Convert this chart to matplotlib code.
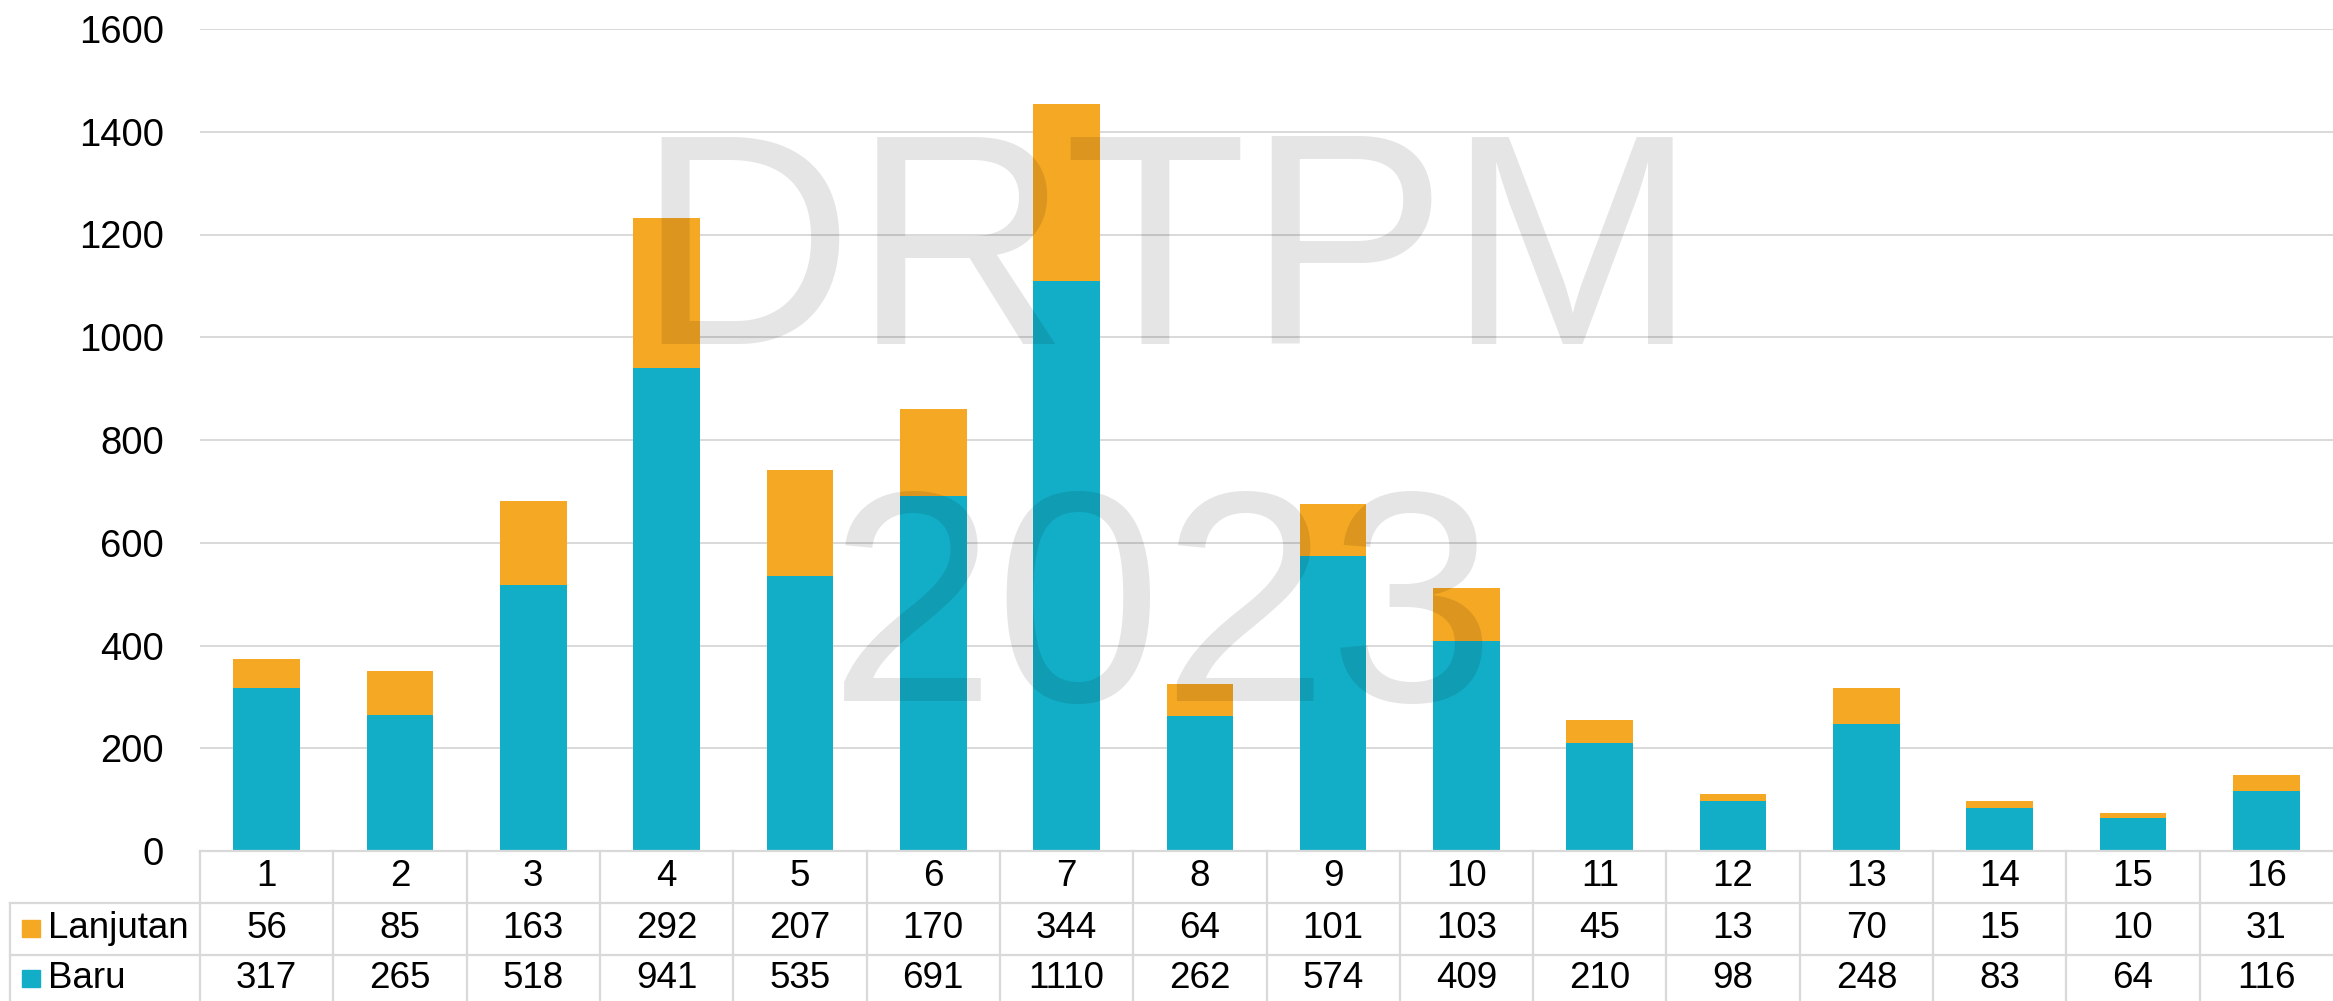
import matplotlib
matplotlib.use("Agg")
from matplotlib import pyplot as plt
from matplotlib import transforms
from matplotlib.lines import Line2D
from matplotlib.patches import Rectangle

plt.rcParams["font.family"] = ["Liberation Sans", "DejaVu Sans"]

# data
categories = [str(i) for i in range(1, 17)]
baru = [317, 265, 518, 941, 535, 691, 1110, 262, 574, 409, 210, 98, 248, 83, 64, 116]
lanjutan = [56, 85, 163, 292, 207, 170, 344, 64, 101, 103, 45, 13, 70, 15, 10, 31]
series_names = ["Lanjutan", "Baru"]
yticks = [0, 200, 400, 600, 800, 1000, 1200, 1400, 1600]

c_baru = "#12AEC7"
c_lanj = "#F5A823"
c_grid = "#D9D9D9"

W, H = 2333, 1001
fig = plt.figure(figsize=(W / 100, H / 100), dpi=100)

def fy(py):
    # pixel row (from top) -> figure fraction
    return (H - py) / H

def fx(px):
    return px / W

ax = fig.add_axes([fx(200), fy(851), fx(2333) - fx(200), fy(29) - fy(851)])
x = list(range(len(categories)))
ax.bar(x, baru, width=0.5, color=c_baru, zorder=2)
ax.bar(x, lanjutan, width=0.5, bottom=baru, color=c_lanj, zorder=2)

ax.set_xlim(-0.5, len(categories) - 0.5)
ax.set_ylim(0, 1600)
ax.set_yticks(yticks)
ax.set_xticks([])
ax.tick_params(axis="y", length=0, labelsize=27.5, pad=26)
ax.yaxis.grid(True, color=c_grid, linewidth=1.4, zorder=0)
for s in ["top", "right", "left"]:
    ax.spines[s].set_visible(False)
ax.spines["bottom"].set_color(c_grid)
ax.spines["bottom"].set_linewidth(1.6)
ax.spines["bottom"].set_zorder(3)

# data table below the axes
bt = transforms.blended_transform_factory(ax.transData, fig.transFigure)
lw = 1.6
for i in range(len(categories)):
    fig.add_artist(Line2D([i - 0.5, i - 0.5], [fy(851), fy(1001)], transform=bt,
                          color=c_grid, lw=lw, clip_on=False))
for py in [903, 955]:
    fig.add_artist(Line2D([fx(10), 1.0], [fy(py), fy(py)], transform=fig.transFigure,
                          color=c_grid, lw=lw))
fig.add_artist(Line2D([fx(10), fx(10)], [fy(903), fy(1001)], transform=fig.transFigure,
                      color=c_grid, lw=lw))

fs = 26.5
for i, cat in enumerate(categories):
    fig.text(i, fy(877), cat, transform=bt, ha="center", va="center", fontsize=fs)
    fig.text(i, fy(929), str(lanjutan[i]), transform=bt, ha="center", va="center", fontsize=fs)
    fig.text(i, fy(979), str(baru[i]), transform=bt, ha="center", va="center", fontsize=fs)

for name, col, py in [(series_names[0], c_lanj, 929), (series_names[1], c_baru, 979)]:
    fig.add_artist(Rectangle((fx(22), fy(py + 8)), fx(18), fy(py - 9) - fy(py + 8),
                             transform=fig.transFigure, color=col))
    fig.text(fx(48), fy(py), name, ha="left", va="center", fontsize=fs)

# watermark
fig.text(0.5004, fy(344), "DRTPM", ha="center", va="baseline", fontsize=216,
         color="black", alpha=0.1, zorder=10)
fig.text(0.4985, fy(701), "2023", ha="center", va="baseline", fontsize=216,
         color="black", alpha=0.1, zorder=10)

fig.savefig("out.png", dpi=100)
